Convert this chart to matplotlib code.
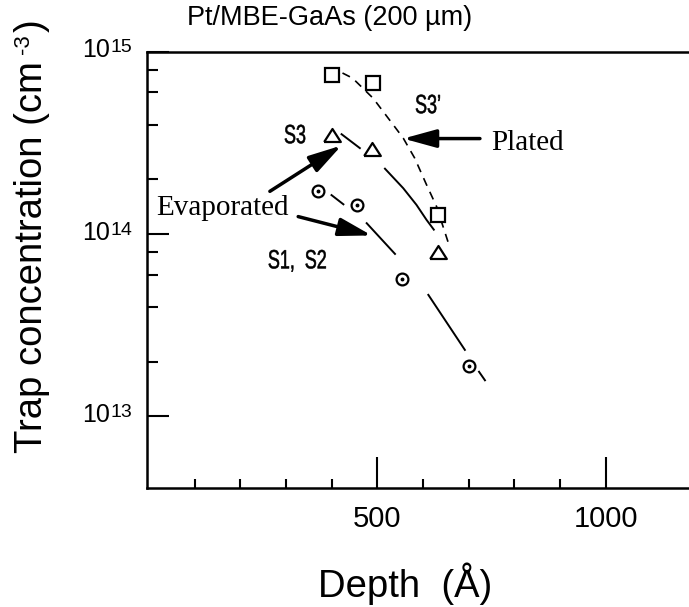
import numpy as np
import matplotlib
matplotlib.use("Agg")
from matplotlib import pyplot as plt
from matplotlib.font_manager import FontProperties
from matplotlib.patches import PathPatch
from matplotlib.textpath import TextPath
from matplotlib.ticker import FixedLocator, NullFormatter
from matplotlib.transforms import Affine2D, IdentityTransform

plt.rcParams['font.family'] = ['Liberation Sans', 'DejaVu Sans']

# measured points (depth in Angstrom, trap concentration in cm^-3)
sq_depth = [400, 490, 633]
sq_conc = [7.45e14, 6.8e14, 1.28e14]
tri_depth = [400, 488, 634]
tri_conc = [3.5e14, 2.95e14, 8.0e13]
circ_depth = [370, 455, 555, 700]
circ_conc = [1.73e14, 1.44e14, 5.7e13, 1.9e13]

# hand drawn guide curves, nan = gap in the line
s3p_depth = [424, 446, 491, 535, 557, 582, 608, 630, 655]
s3p_conc = [7.67e14, 7.19e14, 5.58e14, 3.99e14, 3.37e14, 2.62e14, 1.87e14, 1.42e14, 9.1e13]
s3_depth = [422, 462, np.nan, 517, 557, 586, 608, 624]
s3_conc = [3.54e14, 2.97e14, np.nan, 2.29e14, 1.79e14, 1.45e14, 1.20e14, 1.06e14]
s12_depth = [400, 426, np.nan, 477, 539, np.nan, 612, 692, np.nan, 723, 736]
s12_conc = [1.64e14, 1.46e14, np.nan, 1.15e14, 7.8e13, np.nan, 4.65e13, 2.32e13, np.nan, 1.76e13, 1.58e13]

x_major = [500, 1000]
x_minor = [100, 200, 300, 400, 600, 700, 800, 900]
y_major = [1e13, 1e14, 1e15]
y_minor = [2e13, 4e13, 6e13, 8e13, 2e14, 4e14, 6e14, 8e14]

fig = plt.figure(figsize=(6.89, 6.07), dpi=100)
ax = fig.add_axes([0.2134, 0.196, 0.798, 0.7183])
ax.set_yscale("log")
ax.set_xlim(-4, 1200)
ax.set_ylim(4.05e12, 1e15)


def narrow_text(x, y, s, size=19, squeeze=0.68):
    # condensed lettering like the original figure: squeeze a text path sideways
    path = TextPath((0, 0), s, size=size, prop=FontProperties(family="Liberation Sans"))
    ext = path.get_extents()
    px, py = ax.transData.transform((x, y))
    k = fig.dpi / 72
    tr = Affine2D().translate(-(ext.x0 + ext.x1) / 2, 0).scale(squeeze * k, k).translate(px, py)
    ax.add_artist(PathPatch(path, transform=tr, facecolor="k", edgecolor="k", lw=0.4,
                            clip_on=False))


# guide curves
ax.plot(s3p_depth, s3p_conc, color="k", lw=1.2, linestyle=(0, (5, 4)), zorder=2)
ax.plot(s3_depth, s3_conc, color="k", lw=1.4, zorder=2)
ax.plot(s12_depth, s12_conc, color="k", lw=1.4, zorder=2)

# data points
tri = [(-1, -0.78), (1, -0.78), (0, 0.78), (-1, -0.78)]
ax.plot(sq_depth, sq_conc, "s", ms=10.5, mfc="white", mec="k", mew=1.6, zorder=3)
ax.plot(tri_depth, tri_conc, marker=tri, ls="none", ms=12, mfc="white", mec="k", mew=1.6, zorder=3)
ax.plot(circ_depth, circ_conc, "o", ms=8.5, mfc="white", mec="k", mew=1.6, zorder=3)
ax.plot(circ_depth, circ_conc, "o", ms=1.8, color="k", zorder=4)

# labels on the curves
narrow_text(611, 4.62e14, "S3\u2019")
narrow_text(320, 3.16e14, "S3")
narrow_text(325, 6.5e13, "S1,  S2")
ax.text(750, 2.91e14, "Plated", family=["Liberation Serif"], fontsize=21, va="baseline")
ax.text(17, 1.28e14, "Evaporated", family=["Liberation Serif"], fontsize=21, va="baseline")

arrow = dict(arrowstyle="-|>,head_length=0.8,head_width=0.22", lw=2.5, color="k",
             mutation_scale=25, shrinkA=0, shrinkB=0)
ax.annotate("", xy=(557, 3.35e14), xytext=(725, 3.35e14), arrowprops=arrow)
ax.annotate("", xy=(422, 3.07e14), xytext=(265, 1.72e14), arrowprops=arrow)
ax.annotate("", xy=(488, 9.85e13), xytext=(327, 1.25e14), arrowprops=arrow)

# axes styling
ax.spines["right"].set_visible(False)
for side in ["left", "bottom", "top"]:
    ax.spines[side].set_linewidth(1.8)
ax.xaxis.set_major_locator(FixedLocator(x_major))
ax.xaxis.set_minor_locator(FixedLocator(x_minor))
ax.yaxis.set_major_locator(FixedLocator(y_major))
ax.yaxis.set_minor_locator(FixedLocator(y_minor))
ax.yaxis.set_minor_formatter(NullFormatter())
ax.set_xticklabels([str(v) for v in x_major])
ax.set_yticklabels([])
ax.tick_params(axis="x", which="major", direction="in", length=22, width=1.5,
               labelsize=21, pad=12)
ax.tick_params(axis="x", which="minor", direction="in", length=6.5, width=1.5)
ax.tick_params(axis="y", which="major", direction="in", length=16, width=1.5)
ax.tick_params(axis="y", which="minor", direction="in", length=8, width=1.5)

# y tick labels written as 10 + small raised exponent
ytrans = ax.get_yaxis_transform()
for v in y_major:
    ax.annotate("10", xy=(0, v), xycoords=ytrans, xytext=(-27, -3.8),
                textcoords="offset points", ha="right", va="baseline", fontsize=18)
    ax.annotate(str(int(round(np.log10(v)))), xy=(0, v), xycoords=ytrans,
                xytext=(-26.5, -0.2), textcoords="offset points", ha="left",
                va="baseline", fontsize=14)

ax.set_xlabel("Depth  (\u00c5)", fontsize=27.5)
ax.xaxis.set_label_coords(0.469, -0.17)

# y label built from pieces so the -3 sits low like in the original
ident = IdentityTransform()
ylab = fig.text(42, 607 - 453, "Trap concentration (cm", transform=ident, rotation=90,
                rotation_mode="anchor", ha="left", va="baseline", fontsize=27.5)
fig.canvas.draw()
renderer = fig.canvas.get_renderer()
top = ylab.get_window_extent(renderer).y1
sup = fig.text(42 - 13, top + 7, "-3", transform=ident, rotation=90,
               rotation_mode="anchor", ha="left", va="baseline", fontsize=16)
top = sup.get_window_extent(renderer).y1
fig.text(42, top + 2, ")", transform=ident, rotation=90,
         rotation_mode="anchor", ha="left", va="baseline", fontsize=27.5)

fig.text(330 / 689, 1 - 18 / 607, "Pt/MBE-GaAs (200 \u00b5m)", fontsize=19.5,
         ha="center", va="center")

plt.savefig("out.png", dpi=100)
plt.close()
